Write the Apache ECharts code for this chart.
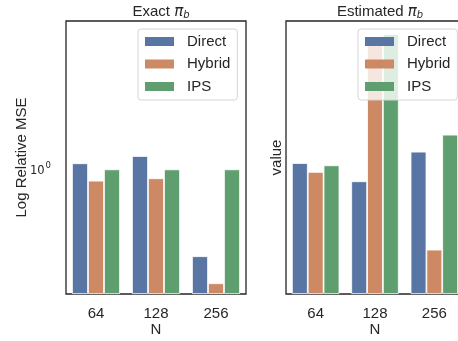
<!DOCTYPE html>
<html>
<head>
<meta charset="utf-8">
<script src="https://cdn.jsdelivr.net/npm/echarts@6/dist/echarts.min.js"></script>
<style>html,body{margin:0;padding:0;background:#fff;}#c{width:458px;height:341px;}</style>
</head>
<body>
<div id="c"></div>
<script>
const categories = ['64', '128', '256'];
const seriesNames = ['Direct', 'Hybrid', 'IPS'];
// Exact pi_b (left panel)
const exactDirect = [1.073, 1.167, 0.368];
const exactHybrid = [0.878, 0.903, 0.2695];
const exactIPS = [1.0, 1.0, 1.0];
// Estimated pi_b (right panel)
const estDirect = [1.076, 0.872, 1.226];
const estHybrid = [0.971, 4.24, 0.397];
const estIPS = [1.048, 4.75, 1.491];
const yMin = 0.2382;
const yMax = 5.521;
const colors = ['#5875a4', '#cc8963', '#5f9e6e'];

const txt = '#262626';
const font = 'Liberation Sans';
const chart = echarts.init(document.getElementById('c'), null, {renderer: 'canvas'});

const titleRich = {
  n: {fontFamily: font, fontSize: 15, fontWeight: 'normal', color: txt},
  p: {fontFamily: 'DejaVu Sans', fontStyle: 'italic', fontWeight: 'normal', fontSize: 15, color: txt},
  s: {fontFamily: 'DejaVu Sans', fontStyle: 'italic', fontWeight: 'normal', fontSize: 10, color: txt, verticalAlign: 'bottom', padding: [6, 0, 0, 0]}
};

function yAxisDef(gi, withLabel, name, gap) {
  return {
    type: 'log', logBase: 10, gridIndex: gi, min: yMin, max: yMax, startValue: yMin,
    name: name, nameLocation: 'middle', nameGap: gap, nameMoveOverlap: false,
    nameTextStyle: {fontFamily: font, fontSize: 15, color: txt},
    axisLine: {show: false}, axisTick: {show: false}, splitLine: {show: false},
    axisLabel: {
      show: withLabel, margin: 15, color: txt,
      formatter: function (v) { return Math.abs(v - 1) < 1e-9 ? '{b|10}{s|0}' : ''; },
      rich: {
        b: {fontFamily: 'DejaVu Sans', fontSize: 11.5, color: txt, padding: [4, 0, 0, 0]},
        s: {fontFamily: 'DejaVu Sans', fontSize: 8.5, color: txt, verticalAlign: 'top', padding: [0, 0, 6, 1]}
      }
    }
  };
}
function xAxisDef(gi) {
  return {
    type: 'category', gridIndex: gi, data: categories,
    name: 'N', nameLocation: 'middle', nameGap: 28, nameMoveOverlap: false,
    nameTextStyle: {fontFamily: font, fontSize: 15, color: txt},
    axisLine: {show: false}, axisTick: {show: false}, splitLine: {show: false},
    axisLabel: {fontFamily: font, fontSize: 15, color: txt, margin: 12}
  };
}
function legendDef(left) {
  return {
    data: seriesNames, left: left, top: 29, orient: 'vertical',
    icon: 'rect', itemWidth: 29, itemHeight: 9, itemGap: 7.5,
    padding: [5, 7, 6, 7],
    backgroundColor: 'rgba(255,255,255,0.8)', borderColor: '#d4d4d4', borderWidth: 1, borderRadius: 3,
    textStyle: {fontFamily: font, fontSize: 15, color: txt, lineHeight: 15, padding: [0, 0, 0, 8]},
    itemStyle: {borderWidth: 0}
  };
}
function bars(name, data, gi, ci) {
  return {
    name: name, type: 'bar', xAxisIndex: gi, yAxisIndex: gi, data: data,
    barGap: '0%', barCategoryGap: '20%',
    itemStyle: {color: colors[ci], borderColor: '#ffffff', borderWidth: 0.8},
    emphasis: {disabled: true}, animation: false
  };
}

chart.setOption({
  animation: false,
  color: colors,
  title: [
    {text: '{n|Exact }{p|π}{s|b}', left: 156, top: -1, textAlign: 'center', textStyle: {fontWeight: 'normal', rich: titleRich}},
    {text: '{n|Estimated }{p|π}{s|b}', left: 375, top: -1, textAlign: 'center', textStyle: {fontWeight: 'normal', rich: titleRich}}
  ],
  grid: [
    {left: 66, top: 21, width: 180, height: 273, show: true, outerBoundsMode: 'none', containLabel: false, borderColor: '#262626', borderWidth: 1.3, backgroundColor: 'transparent'},
    {left: 286, top: 21, width: 178, height: 273, show: true, outerBoundsMode: 'none', containLabel: false, borderColor: '#262626', borderWidth: 1.3, backgroundColor: 'transparent'}
  ],
  legend: [legendDef(138), legendDef(358)],
  xAxis: [xAxisDef(0), xAxisDef(1)],
  yAxis: [yAxisDef(0, true, 'Log Relative MSE', 37), yAxisDef(1, false, 'value', 1.5)],
  series: [
    bars('Direct', exactDirect, 0, 0),
    bars('Hybrid', exactHybrid, 0, 1),
    bars('IPS', exactIPS, 0, 2),
    bars('Direct', estDirect, 1, 0),
    bars('Hybrid', estHybrid, 1, 1),
    bars('IPS', estIPS, 1, 2)
  ]
});
</script>
</body>
</html>
